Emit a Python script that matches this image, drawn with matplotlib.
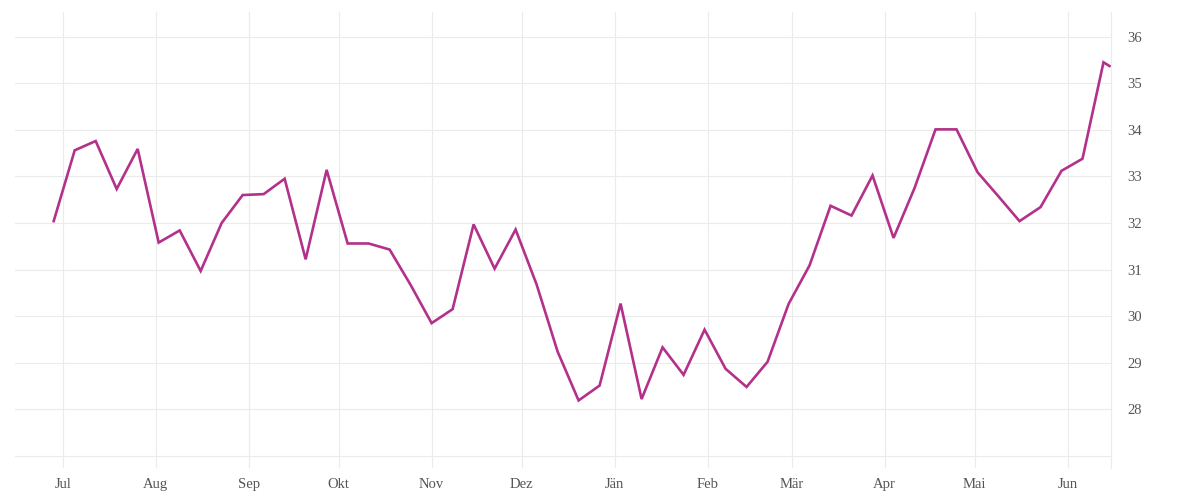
import matplotlib
matplotlib.use("Agg")
import matplotlib.pyplot as plt
import matplotlib.dates as mdates
import numpy as np
import datetime as dt

# ---- data ----
start_date = dt.date(2018, 6, 28)
n_weekly = 51
values = [32.04, 33.56, 33.76, 32.73, 33.59, 31.58, 31.84, 30.97, 32.00, 32.60,
          32.62, 32.95, 31.22, 33.14, 31.56, 31.56, 31.43, 30.67, 29.85, 30.15,
          31.97, 31.02, 31.86, 30.68, 29.24, 28.19, 28.51, 30.27, 28.22, 29.33,
          28.74, 29.71, 28.87, 28.48, 29.02, 30.26, 31.09, 32.37, 32.16, 33.02,
          31.68, 32.75, 34.01, 34.01, 33.09, 32.57, 32.04, 32.34, 33.12, 33.38,
          35.45, 35.37]
dates = [start_date + dt.timedelta(days=7 * i) for i in range(n_weekly)]
dates.append(dates[-1] + dt.timedelta(days=2))

month_ticks = [dt.date(2018, m, 1) for m in range(7, 13)] + [dt.date(2019, m, 1) for m in range(1, 7)]
month_labels = ["Jul", "Aug", "Sep", "Okt", "Nov", "Dez", "Jän", "Feb", "Mär", "Apr", "Mai", "Jun"]
y_ticks = [27, 28, 29, 30, 31, 32, 33, 34, 35, 36]
y_labels = ["", "28", "29", "30", "31", "32", "33", "34", "35", "36"]

# ---- figure ----
fig = plt.figure(figsize=(12, 5), dpi=100)
ax = fig.add_axes([15 / 1200, 1 - 468 / 500, (1111 - 15) / 1200, (468 - 12) / 500])

grid_c = "#ebebeb"
ax.plot(mdates.date2num(dates), values, color="#b3318b", lw=1.9, solid_joinstyle="miter", zorder=3)

x0 = mdates.date2num(dt.date(2018, 7, 1))
ax.set_xlim(x0 - 15.9, x0 + 349.5)
ax.set_ylim(26.74, 36.53)

ax.set_xticks(mdates.date2num(month_ticks))
ax.set_xticklabels(month_labels)
ax.set_yticks(y_ticks)
ax.set_yticklabels(y_labels)
ax.yaxis.tick_right()

ax.grid(True, color=grid_c, lw=0.8, zorder=0)
for s in ["top", "left", "bottom"]:
    ax.spines[s].set_visible(False)
ax.spines["right"].set_color(grid_c)
ax.spines["right"].set_linewidth(0.8)

font = dict(family=["Liberation Serif", "DejaVu Serif"], size=10.5, color="#555555")
ax.tick_params(axis="both", length=0)
ax.tick_params(axis="x", pad=7)
ax.tick_params(axis="y", pad=12)
for lab in ax.get_xticklabels() + ax.get_yticklabels():
    lab.set_fontfamily(font["family"])
    lab.set_fontsize(font["size"])
    lab.set_color(font["color"])

fig.savefig("out.png", dpi=100, facecolor="white")
